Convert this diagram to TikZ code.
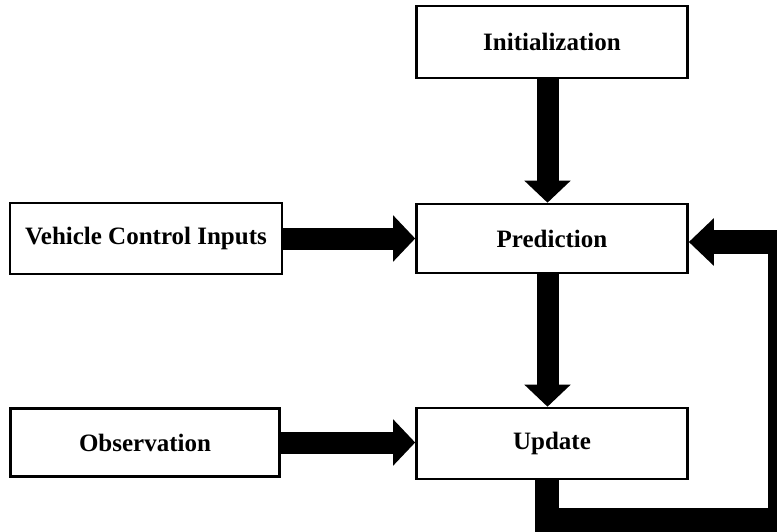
\documentclass[tikz,border=0pt]{standalone}
\usepackage{fontspec}
\setmainfont{Liberation Serif}
\usetikzlibrary{arrows.meta}
\begin{document}
\begin{tikzpicture}[x=1pt,y=-1pt,
  box/.style={draw, line width=2.6pt, inner sep=0pt, font=\bfseries\fontsize{25}{25}\selectfont},
  flow/.style={line width=22pt, -{Triangle[length=22pt,width=45pt]}},
  loopflow/.style={line width=24pt, line join=miter, -{Triangle[length=25pt,width=46pt]}}]
\useasboundingbox (0,0) rectangle (777,532);
\node[box, minimum width=271pt, minimum height=72pt] (init) at (552,42) {Initialization};
\node[box, minimum width=271pt, minimum height=69pt] (pred) at (552,238.5) {Prediction};
\node[box, minimum width=271pt, minimum height=71pt] (upd) at (552,443.5) {Update};
\node[box, minimum width=272pt, minimum height=71pt] (veh) at (146,238.5) {Vehicle Control Inputs};
\node[box, minimum width=269pt, minimum height=68pt] (obs) at (145,442.5) {Observation};
\draw[flow] ([xshift=-4.5pt]init.south) -- ([xshift=-4.5pt]pred.north);
\draw[flow] ([xshift=-4.5pt]pred.south) -- ([xshift=-4.5pt]upd.north);
\draw[flow] (veh.east) -- (veh.east -| pred.west);
\draw[flow] (obs.east) -- (obs.east -| upd.west);
\begin{scope}
\clip (0,0) rectangle (777,532);
\coordinate (fbc) at (780,519.5);
\draw[loopflow] ([xshift=-5.5pt]upd.south) |- (fbc) |- ([yshift=-3.5pt]pred.east);
\end{scope}
\end{tikzpicture}
\end{document}
